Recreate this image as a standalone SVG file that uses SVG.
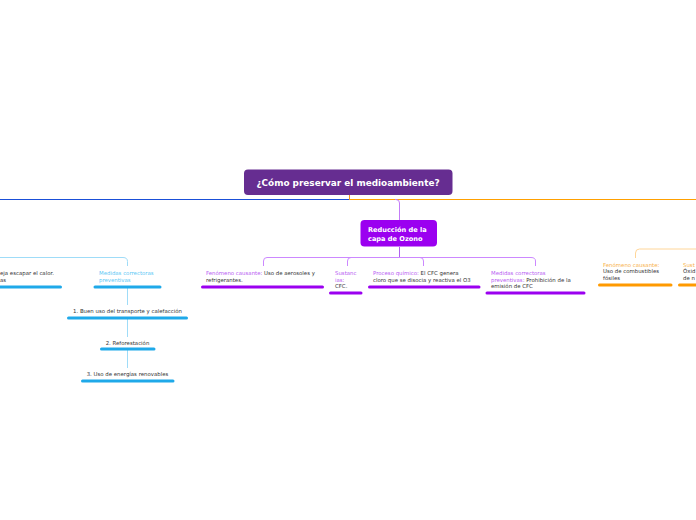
<svg xmlns="http://www.w3.org/2000/svg" width="696" height="520" viewBox="0 0 696 520">
<style>
text{font-family:"DejaVu Sans","Verdana",sans-serif;}
.t{font-size:5.4px;fill:#333333;}
.lp{fill:#b85cf2;}
.lb{fill:#5cc8f5;}
.lo{fill:#f8b24a;}
.bp{fill:#9b00f0;}
.bb{fill:#1fa9e9;}
.bo{fill:#ff9a00;}
.cp{fill:none;stroke:#cc88ff;stroke-width:1;}
.cb{fill:none;stroke:#9fdcf8;stroke-width:1;}
.co{fill:none;stroke:#ffd699;stroke-width:1;}
</style>
<rect width="696" height="520" fill="#ffffff"/>
<g id="connectors">
<path d="M349.5 195 V199.5" stroke="#f7941d" stroke-width="1" fill="none"/>
<path d="M0 199.5 H349" stroke="#1a4fd8" stroke-width="1" fill="none"/>
<path d="M349 199.5 H696" stroke="#ffa000" stroke-width="1" fill="none"/>
<path d="M395 199.5 H396 Q399.5 199.5 399.5 203 V220" stroke="#c47cf8" stroke-width="1" fill="none"/>
<path d="M399.5 247 V257.5" stroke="#b060f0" stroke-width="1" fill="none"/>
<path class="cp" d="M399.5 257.5 H267 Q263.5 257.5 263.5 261 V266"/>
<path class="cp" d="M399.5 257.5 H351 Q347.5 257.5 347.5 261 V266"/>
<path class="cp" d="M399.5 257.5 H420 Q423.5 257.5 423.5 261 V266"/>
<path class="cp" d="M399.5 257.5 H531 Q535.5 257.5 535.5 261 V266"/>
<path class="cb" d="M0 257.5 H123 Q127.5 257.5 127.5 261.5 V266"/>
<path class="cb" d="M127.5 288 V305"/>
<path class="cb" d="M127.5 319 V337"/>
<path class="cb" d="M127.5 350 V368"/>
<path class="co" d="M696 249 H639.5 Q635.5 249 635.5 253 V258"/>
</g>
<g id="root">
<rect x="244" y="169.5" width="208.5" height="25.5" rx="4" fill="#662d91"/>
<text x="348" y="185.5" text-anchor="middle" font-size="8.9" font-weight="bold" fill="#ffffff">¿Cómo preservar el medioambiente?</text>
</g>
<g id="ozono">
<rect x="360.5" y="220" width="76.5" height="26.5" rx="4" fill="#9b00f0"/>
<text x="368" y="231.5" font-size="6.6" font-weight="bold" fill="#ffffff">Reducción de la</text>
<text x="368" y="240.5" font-size="6.6" font-weight="bold" fill="#ffffff">capa de Ozono</text>
</g>
<g id="oz-fenomeno">
<text class="t" x="206" y="274.5"><tspan class="lp">Fenómeno causante:</tspan> Uso de aerosoles y</text>
<text class="t" x="206" y="281.5">refrigerantes.</text>
<rect class="bp" x="201" y="285.5" width="123" height="3" rx="1.5"/>
</g>
<g id="oz-sustancias">
<text class="t lp" x="335" y="274.5">Sustanc</text>
<text class="t lp" x="335" y="281.5">ias:</text>
<text class="t" x="335" y="288">CFC.</text>
<rect class="bp" x="329" y="291.5" width="33.5" height="3" rx="1.5"/>
</g>
<g id="oz-proceso">
<text class="t" x="373" y="274.5"><tspan class="lp">Proceso químico:</tspan> El CFC genera</text>
<text class="t" x="373" y="281.5">cloro que se disocia y reactiva el O3</text>
<rect class="bp" x="368" y="285.5" width="112.5" height="3" rx="1.5"/>
</g>
<g id="oz-medidas">
<text class="t lp" x="491" y="274.5">Medidas correctoras</text>
<text class="t" x="491" y="281.5"><tspan class="lp">preventivas:</tspan> Prohibición de la</text>
<text class="t" x="491" y="288">emisión de CFC</text>
<rect class="bp" x="485.5" y="291.5" width="100" height="3" rx="1.5"/>
</g>
<g id="left-fenomeno">
<text class="t" x="0" y="274.5">eja escapar el calor.</text>
<text class="t" x="0" y="281.5">as</text>
<rect class="bb" x="-2" y="285.5" width="64" height="3" rx="1.5"/>
</g>
<g id="left-medidas">
<text class="t lb" x="99" y="274.5">Medidas correctoras</text>
<text class="t lb" x="99" y="281.5">preventivas</text>
<rect class="bb" x="93.5" y="285.5" width="68" height="3" rx="1.5"/>
</g>
<g id="medida-1">
<text class="t" x="127.5" y="313" text-anchor="middle">1. Buen uso del transporte y calefacción</text>
<rect class="bb" x="67" y="316.5" width="121" height="3" rx="1.5"/>
</g>
<g id="medida-2">
<text class="t" x="127.5" y="344.5" text-anchor="middle">2. Reforestación</text>
<rect class="bb" x="100" y="347.5" width="55.5" height="3" rx="1.5"/>
</g>
<g id="medida-3">
<text class="t" x="127.5" y="376" text-anchor="middle">3. Uso de energías renovables</text>
<rect class="bb" x="81" y="379.5" width="93.5" height="3" rx="1.5"/>
</g>
<g id="right-fenomeno">
<text class="t lo" x="603" y="266.5">Fenómeno causante:</text>
<text class="t" x="603" y="273">Uso de combustibles</text>
<text class="t" x="603" y="280">fósiles</text>
<rect class="bo" x="598" y="283.5" width="74.5" height="3" rx="1.5"/>
</g>
<g id="right-sustancias">
<text class="t lo" x="683" y="266.5">Sust</text>
<text class="t" x="683" y="273">Óxid</text>
<text class="t" x="683" y="280">de n</text>
<rect class="bo" x="678" y="283.5" width="20" height="3" rx="1.5"/>
</g>
</svg>
